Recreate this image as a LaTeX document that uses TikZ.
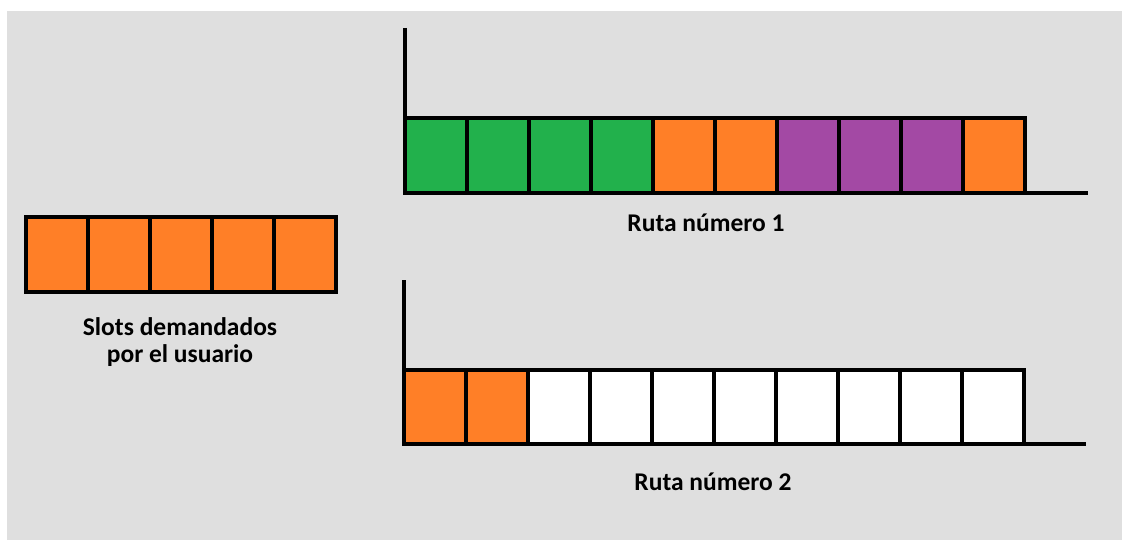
\documentclass[tikz,border=0pt]{standalone}
\usepackage{fontspec}
\setmainfont{Carlito}
\definecolor{bggray}{HTML}{DFDFDF}
\definecolor{slotgreen}{HTML}{22B14C}
\definecolor{slotorange}{HTML}{FF7F27}
\definecolor{slotpurple}{HTML}{A349A4}
\begin{document}
\begin{tikzpicture}[x=1pt,y=-1pt,
  cell/.style={draw=black, line width=4pt, rectangle, inner sep=0pt, outer sep=0pt,
    minimum width=62pt, minimum height=75pt, anchor=north west},
  axis/.style={draw=black, line width=4pt},
  label/.style={font=\fontsize{25.5}{27}\selectfont\bfseries, anchor=base, align=center, inner sep=0pt}]
  % page and background panel
  \useasboundingbox (0,0) rectangle (1122,540);
  \fill[white] (0,0) rectangle (1122,540);
  \fill[bggray] (7,11) rectangle (1122,540);

  % slots requested by the user
  \foreach \i in {1,...,5}
    \node[cell, fill=slotorange] (u\i) at ({25.5+62*(\i-1)},217) {};
  \node[label] (ulabel) at (180,362) {Slots demandados\\por el usuario};

  % route 1
  \foreach \i/\c in {1/slotgreen,2/slotgreen,3/slotgreen,4/slotgreen,5/slotorange,
                     6/slotorange,7/slotpurple,8/slotpurple,9/slotpurple,10/slotorange}
    \node[cell, fill=\c, minimum height=74.5pt] (a\i) at ({405+62*(\i-1)},118.5) {};
  \coordinate (atop) at (405,28);
  \coordinate (aend) at (1088,193);
  \draw[axis] (atop) -- (a1.south west) -- (aend);
  \node[label] (alabel) at (706,232) {Ruta número 1};

  % route 2
  \foreach \i/\c in {1/slotorange,2/slotorange,3/white,4/white,5/white,
                     6/white,7/white,8/white,9/white,10/white}
    \node[cell, fill=\c, minimum height=74.5pt] (b\i) at ({403.5+62*(\i-1)},369.5) {};
  \coordinate (btop) at (403.5,280);
  \coordinate (bend) at (1086,444);
  \draw[axis] (btop) -- (b1.south west) -- (bend);
  \node[label] (blabel) at (713,490) {Ruta número 2};
\end{tikzpicture}
\end{document}
